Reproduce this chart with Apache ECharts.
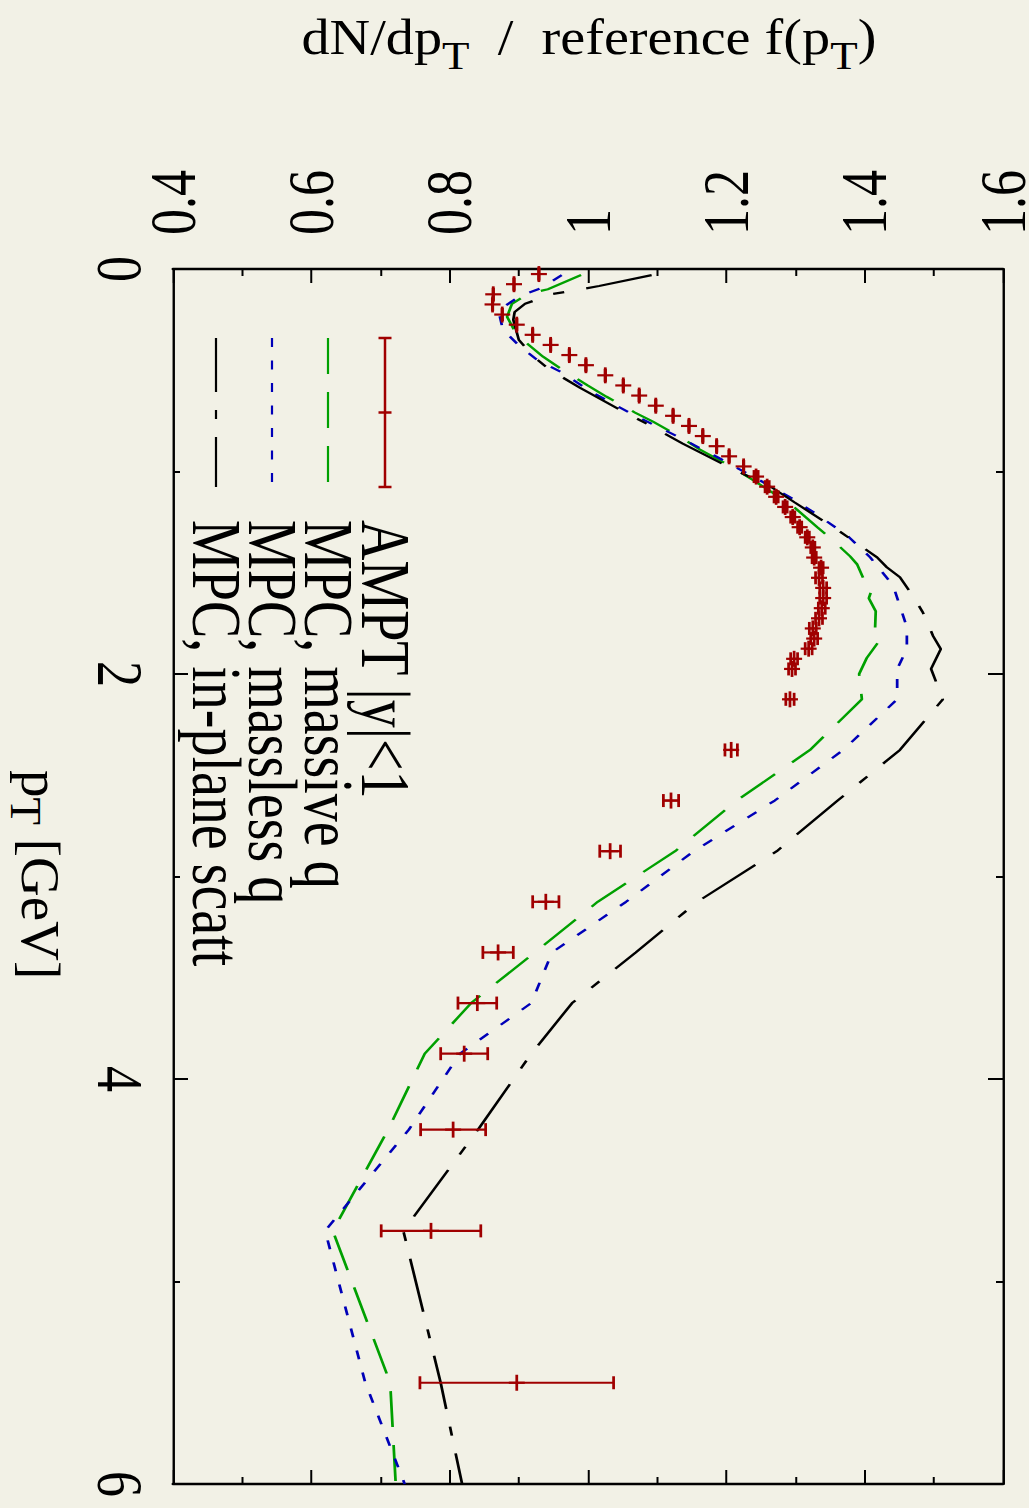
<!DOCTYPE html>
<html>
<head>
<meta charset="utf-8">
<script src="https://cdn.jsdelivr.net/npm/echarts@6/dist/echarts.min.js"></script>
<style>
  html, body { margin: 0; padding: 0; background: #f2f1e6; overflow: hidden; }
  #chart { height: 1508px; transform-origin: 0 0; }
</style>
</head>
<body>
<div id="chart"></div>
<script>
// Ratio of the pT spectrum to the reference f(pT), plotted sideways:
// pT runs down the page, the ratio runs across it.

// AMPT |y|<1 : pT bin centres [GeV], ratio, error
const amptPt = [
  0.025, 0.075, 0.125, 0.175, 0.225, 0.275, 0.325, 0.375, 0.425, 0.475,
  0.525, 0.575, 0.625, 0.675, 0.725, 0.775, 0.825, 0.875, 0.925, 0.975,
  1.025, 1.075, 1.125, 1.175, 1.225, 1.275, 1.325, 1.375, 1.425, 1.475,
  1.525, 1.575, 1.625, 1.675, 1.725, 1.775, 1.825, 1.875, 1.925, 1.975,
  2.125, 2.375, 2.625, 2.875, 3.125, 3.375, 3.625, 3.875, 4.25, 4.75, 5.5
];
const amptRatio = [
  0.929, 0.893, 0.863, 0.862, 0.876, 0.897, 0.920, 0.946, 0.973, 0.997,
  1.025, 1.051, 1.074, 1.098, 1.123, 1.146, 1.166, 1.186, 1.204, 1.225,
  1.243, 1.259, 1.272, 1.285, 1.296, 1.306, 1.317, 1.325, 1.327, 1.337,
  1.334, 1.340, 1.340, 1.338, 1.334, 1.325, 1.327, 1.319, 1.298, 1.295,
  1.292, 1.207, 1.120, 1.032, 0.939, 0.870, 0.840, 0.821, 0.805, 0.773, 0.897
];
const amptErr = [
  0.0003, 0.0003, 0.0003, 0.0003, 0.0003, 0.0003, 0.0003, 0.0003, 0.0003, 0.0003,
  0.0003, 0.0003, 0.0003, 0.0003, 0.0003, 0.0003, 0.0003, 0.0003, 0.0003, 0.0003,
  0.003, 0.003, 0.003, 0.003, 0.003, 0.003, 0.003, 0.003, 0.003, 0.003,
  0.005, 0.005, 0.005, 0.005, 0.005, 0.005, 0.005, 0.005, 0.005, 0.005,
  0.006, 0.009, 0.011, 0.015, 0.019, 0.022, 0.028, 0.034, 0.047, 0.072, 0.14
];

// MPC, massive q
const massivePt = [
  0.03, 0.10, 0.123, 0.172, 0.236, 0.325, 0.433, 0.488, 0.576, 0.631,
  0.709, 0.754, 0.837, 0.892, 0.970, 1.039, 1.118, 1.167, 1.276, 1.340,
  1.419, 1.458, 1.542, 1.576, 1.626, 1.69, 1.783, 1.823, 1.921, 2.0,
  2.125, 2.375, 2.625, 2.875, 3.125, 3.375, 3.625, 3.875, 4.25, 4.75, 5.5, 6.0
];
const massiveRatio = [
  0.990, 0.942, 0.913, 0.890, 0.883, 0.897, 0.935, 0.959, 1.000, 1.027,
  1.068, 1.094, 1.137, 1.162, 1.204, 1.237, 1.273, 1.295, 1.332, 1.354,
  1.379, 1.389, 1.400, 1.411, 1.406, 1.416, 1.415, 1.424, 1.403, 1.392,
  1.396, 1.321, 1.215, 1.126, 1.014, 0.923, 0.831, 0.764, 0.711, 0.631, 0.714, 0.722
];

// MPC, massless q
const masslessPt = [
  0.03, 0.094, 0.133, 0.192, 0.212, 0.30, 0.374, 0.448, 0.507, 0.611,
  0.719, 0.833, 0.931, 1.039, 1.133, 1.212, 1.320, 1.424, 1.562, 1.665,
  1.768, 1.877, 1.975, 2.125, 2.375, 2.625, 2.875, 3.125, 3.375, 3.625,
  3.875, 4.25, 4.75, 5.5, 6.0
];
const masslessRatio = [
  0.962, 0.933, 0.902, 0.876, 0.871, 0.877, 0.899, 0.926, 0.960, 1.007,
  1.065, 1.133, 1.188, 1.246, 1.295, 1.331, 1.376, 1.408, 1.441, 1.451,
  1.461, 1.461, 1.447, 1.447, 1.369, 1.270, 1.153, 1.055, 0.948, 0.918,
  0.815, 0.741, 0.620, 0.678, 0.735
];

// MPC, in-plane scatt
const inplanePt = [
  0.03, 0.084, 0.108, 0.123, 0.172, 0.212, 0.251, 0.350, 0.438, 0.498,
  0.586, 0.695, 0.764, 0.862, 0.980, 1.079, 1.153, 1.296, 1.424, 1.473,
  1.522, 1.616, 1.695, 1.813, 1.877, 1.975, 2.125, 2.375, 2.625, 2.875,
  3.125, 3.375, 3.625, 3.875, 4.25, 4.75, 5.5, 6.0
];
const inplaneRatio = [
  1.092, 1.016, 0.977, 0.949, 0.909, 0.894, 0.892, 0.900, 0.923, 0.945,
  0.988, 1.046, 1.085, 1.137, 1.205, 1.266, 1.299, 1.364, 1.418, 1.432,
  1.451, 1.470, 1.484, 1.499, 1.510, 1.496, 1.513, 1.451, 1.361, 1.273,
  1.158, 1.069, 0.977, 0.918, 0.841, 0.733, 0.787, 0.818
];

const legendLabels = ['AMPT |y|<1', 'MPC, massive q', 'MPC, massless q', 'MPC, in-plane scatt'];

// ---------------------------------------------------------------------------
const PAGE_W = 1029;
const SX = 1.25;                 // horizontal stretch of the whole figure
const W = PAGE_W / SX;
const sx = v => v / SX;          // page x -> chart x

const BG = '#f2f1e6';
const RED = '#a00000';
const GREEN = '#00a000';
const BLUE = '#0000b8';
const BLACK = '#000000';
const FAMILY = '"Liberation Serif", "Times New Roman", serif';
const font = size => size + 'px ' + FAMILY;

const el = document.getElementById('chart');
el.style.width = W + 'px';
el.style.transform = 'scaleX(' + SX + ')';

const chart = echarts.init(el, null, { renderer: 'svg' });

const pairs = (pt, r) => pt.map((p, i) => [r[i], p]);

const frameH = { lineStyle: { color: BLACK, width: 2.4 } };
const frameV = { lineStyle: { color: BLACK, width: 2.4 / SX } };

function ratioAxis(pos, labels) {
  return {
    type: 'value', position: pos, min: 0.4, max: 1.6, interval: 0.2,
    splitLine: { show: false },
    axisLine: Object.assign({ show: true, onZero: false }, frameH),
    axisTick: { show: true, inside: true, length: 14, lineStyle: { color: BLACK, width: 2 / SX } },
    minorTick: { show: true, splitNumber: 2, length: 7, lineStyle: { color: BLACK, width: 2 / SX } },
    axisLabel: labels ? {
      show: true, rotate: -90, margin: 34, color: BLACK, lineHeight: 38,
      fontFamily: FAMILY, fontSize: 52, showMinLabel: true, showMaxLabel: true
    } : { show: false }
  };
}
function ptAxis(pos, labels) {
  return {
    type: 'value', position: pos, inverse: true, min: 0, max: 6, interval: 2,
    splitLine: { show: false },
    axisLine: Object.assign({ show: true, onZero: false }, frameV),
    axisTick: { show: true, inside: true, length: 15 / SX, lineStyle: { color: BLACK, width: 2 } },
    minorTick: { show: true, splitNumber: 2, length: 7 / SX, lineStyle: { color: BLACK, width: 2 } },
    axisLabel: labels ? {
      show: true, rotate: -90, margin: 17, color: BLACK,
      fontFamily: FAMILY, fontSize: 52, showMinLabel: true, showMaxLabel: true
    } : { show: false }
  };
}

function curve(name, pt, r, color, dash, width) {
  return {
    name: name, type: 'line', xAxisIndex: 0, yAxisIndex: 0,
    data: pairs(pt, r), showSymbol: false, symbol: 'none', smooth: false,
    clip: true, silent: true, animation: false,
    lineStyle: { color: color, width: width, type: dash, cap: 'butt' }
  };
}

const amptData = amptPt.map((p, i) => [amptRatio[i], p, amptErr[i]]);

// gnuplot-style point: '+' marker with a horizontal error bar and end caps
function renderPoint(params, api) {
  const r = api.value(0), pt = api.value(1), e = api.value(2);
  const c = api.coord([r, pt]);
  const lo = api.coord([r - e, pt]);
  const hi = api.coord([r + e, pt]);
  const st = { stroke: RED, lineWidth: 2.2, fill: null };
  const cap = 6.5, armX = 8 / SX, armY = 8;
  const ln = (x1, y1, x2, y2) => ({ type: 'line', shape: { x1, y1, x2, y2 }, style: st });
  return {
    type: 'group',
    children: [
      ln(lo[0], c[1], hi[0], c[1]),
      ln(lo[0], c[1] - cap, lo[0], c[1] + cap),
      ln(hi[0], c[1] - cap, hi[0], c[1] + cap),
      ln(c[0] - armX, c[1], c[0] + armX, c[1]),
      ln(c[0], c[1] - armY, c[0], c[1] + armY)
    ]
  };
}

// legend drawn sideways, in the upper-left of the frame
const LEG_TOP = 338, LEG_BOT = 487, LEG_TEXT = 520;
const legX = [385, 328, 272, 216].map(sx);
const legLine = (x, color, dash) => ({
  type: 'line', silent: true,
  shape: { x1: x, y1: LEG_TOP, x2: x, y2: LEG_BOT },
  style: { stroke: color, lineWidth: 2.2 / SX, lineDash: dash, lineCap: 'butt' }
});
const redSeg = (x1, y1, x2, y2, w) => ({
  type: 'line', silent: true, shape: { x1, y1, x2, y2 },
  style: { stroke: RED, lineWidth: w }
});
const capHalf = 6.5 / SX;
const legMid = (LEG_TOP + LEG_BOT) / 2;
const legendGraphics = [
  redSeg(legX[0], LEG_TOP, legX[0], LEG_BOT, 2.5 / SX),
  redSeg(legX[0] - capHalf, LEG_TOP, legX[0] + capHalf, LEG_TOP, 2.5),
  redSeg(legX[0] - capHalf, LEG_BOT, legX[0] + capHalf, LEG_BOT, 2.5),
  redSeg(legX[0] - capHalf, legMid, legX[0] + capHalf, legMid, 2.5),
  legLine(legX[1], GREEN, [36, 18]),
  legLine(legX[2], BLUE, [9, 13.5]),
  legLine(legX[3], BLACK, [54, 18, 9, 18])
];
legendLabels.forEach((t, i) => {
  legendGraphics.push({
    type: 'text', silent: true, x: legX[i], y: LEG_TEXT, rotation: -Math.PI / 2,
    style: { text: t, fill: BLACK, font: font(56), align: 'left', verticalAlign: 'middle' }
  });
});

// Text with subscripts, built piece by piece along a common bottom line.
const measureCtx = document.createElement('canvas').getContext('2d');
function textWidth(str, size) {
  measureCtx.font = font(size);
  return measureCtx.measureText(str).width;
}
function subscriptText(parts, mainSize, subSize, drop) {
  let x = 0;
  const children = [];
  parts.forEach(([t, isSub]) => {
    const size = isSub ? subSize : mainSize;
    children.push({
      type: 'text', silent: true, x: x, y: isSub ? drop : 0,
      style: { text: t, font: font(size), fill: BLACK, align: 'left', verticalAlign: 'bottom' }
    });
    x += textWidth(t, size);
  });
  return { children, width: x };
}

const NB = '\u00a0';
// the axis titles use narrower letterforms than the tick labels
const TITLE_SQUEEZE = 0.9;
const titleTop = subscriptText(
  [['dN/dp', false], ['T', true], [NB + NB + '/' + NB + NB + 'reference f(p', false], ['T', true], [')', false]],
  50, 40, 12.5
);
const LEFT_SQUEEZE = 0.8;
const titleLeft = subscriptText(
  [['p', false], ['T', true], [NB + '[GeV]', false]],
  55, 45, 10
);

option = {
  backgroundColor: BG,
  animation: false,
  grid: { left: sx(173), top: 269, width: sx(1003) - sx(173), height: 1215, containLabel: false, outerBoundsMode: 'none' },
  xAxis: [ratioAxis('top', true), ratioAxis('bottom', false)],
  yAxis: [ptAxis('left', true), ptAxis('right', false)],
  series: [
    curve('MPC, massive q', massivePt, massiveRatio, GREEN, [36, 18], 2.2),
    curve('MPC, massless q', masslessPt, masslessRatio, BLUE, [9, 13.5], 2.2),
    curve('MPC, in-plane scatt', inplanePt, inplaneRatio, BLACK, [54, 18, 9, 18], 2.2),
    {
      name: 'AMPT |y|<1', type: 'custom', xAxisIndex: 0, yAxisIndex: 0,
      data: amptData, encode: { x: 0, y: 1 }, renderItem: renderPoint,
      silent: true, animation: false, z: 5
    }
  ],
  graphic: legendGraphics.concat([
    // axis title across the top
    {
      type: 'group', silent: true,
      x: sx(589) - titleTop.width * TITLE_SQUEEZE / 2, y: 63, scaleX: TITLE_SQUEEZE,
      children: titleTop.children
    },
    // pT axis title down the left side
    {
      type: 'group', silent: true, x: sx(13), y: 770, rotation: -Math.PI / 2, scaleY: LEFT_SQUEEZE,
      children: titleLeft.children
    }
  ])
};

chart.setOption(option);
</script>
</body>
</html>
